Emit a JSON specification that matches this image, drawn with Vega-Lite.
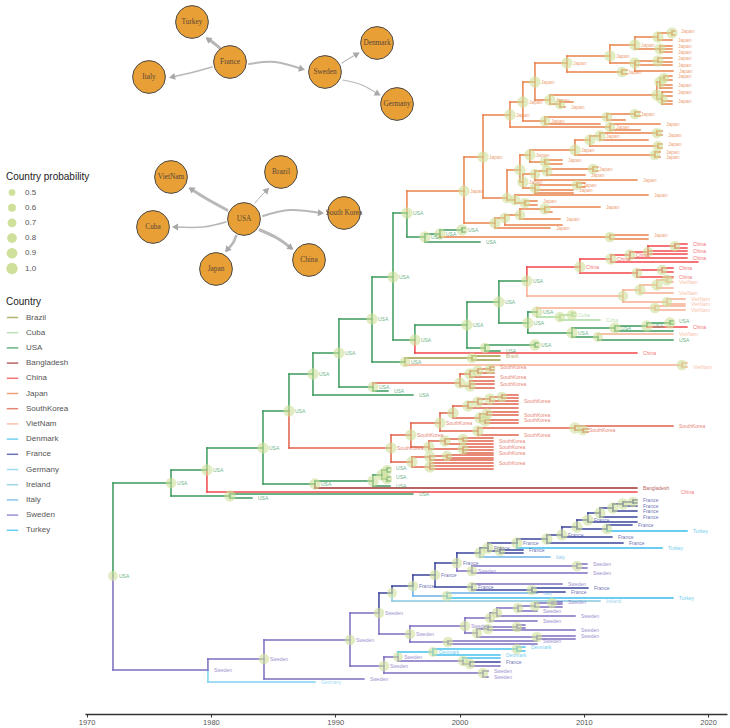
{
"$schema":"https://vega.github.io/schema/vega-lite/v6.json",
"width":642,"height":714,"autosize":"none",
"padding":{"left":85,"top":0,"right":3,"bottom":14},
"config":{"view":{"stroke":null},"font":"Liberation Sans"},
"datasets":{
"tree":[
{"x":1972.12,"y":576,"c":"USA","p":0.8,"l":1},
{"x":1976.79,"y":483,"px":1972.12,"py":576,"c":"USA","p":0.9,"l":1},
{"x":1979.76,"y":670,"px":1972.12,"py":576,"c":"Sweden","l":1},
{"x":1979.68,"y":470,"px":1976.79,"py":483,"c":"USA","p":1,"l":1},
{"x":1981.53,"y":496,"px":1976.79,"py":483,"c":"USA","p":1},
{"x":1983.3,"y":498,"px":1981.53,"py":496,"c":"USA","l":1},
{"x":1996.25,"y":494,"px":1981.53,"py":496,"c":"USA","l":1},
{"x":1984.19,"y":448,"px":1979.68,"py":470,"c":"USA","p":1,"l":1},
{"x":2014.27,"y":492,"px":1979.68,"py":470,"c":"China","l":2},
{"x":1986.28,"y":411,"px":1984.19,"py":448,"c":"USA","p":1,"l":1},
{"x":1988.37,"y":484,"px":1984.19,"py":448,"c":"USA","p":1,"l":1},
{"x":1993.04,"y":481,"px":1988.37,"py":484,"c":"USA","p":1},
{"x":2014.27,"y":488,"px":1988.37,"py":484,"c":"Bangladesh","l":1},
{"x":1993.76,"y":475,"px":1993.04,"py":481,"c":"USA","p":1},
{"x":1994.41,"y":486,"px":1993.04,"py":481,"c":"USA","l":1},
{"x":1994.16,"y":470,"px":1993.76,"py":475,"c":"USA","p":0.9},
{"x":1994.16,"y":479,"px":1993.76,"py":475,"c":"USA","p":0.9},
{"x":1994.41,"y":468,"px":1994.16,"py":470,"c":"USA","l":1},
{"x":1994.41,"y":472,"px":1994.16,"py":470,"c":"USA"},
{"x":1994.41,"y":477,"px":1994.16,"py":479,"c":"USA","l":1},
{"x":1994.41,"y":481,"px":1994.16,"py":479,"c":"USA"},
{"x":1988.21,"y":374,"px":1986.28,"py":411,"c":"USA","p":1,"l":1},
{"x":1994.49,"y":448,"px":1986.28,"py":411,"c":"SouthKorea","p":1,"l":1},
{"x":1990.3,"y":353,"px":1988.21,"py":374,"c":"USA","p":1,"l":1},
{"x":1996.25,"y":395,"px":1988.21,"py":374,"c":"USA","l":1},
{"x":1992.96,"y":319,"px":1990.3,"py":353,"c":"USA","p":1,"l":1},
{"x":1993.04,"y":387,"px":1990.3,"py":353,"c":"USA","p":0.9,"l":1},
{"x":2000.04,"y":383,"px":1993.04,"py":387,"c":"SouthKorea","p":1},
{"x":1994.24,"y":391,"px":1993.04,"py":387,"c":"USA","l":1},
{"x":1994.65,"y":277,"px":1992.96,"py":319,"c":"USA","p":1,"l":1},
{"x":1995.61,"y":362,"px":1992.96,"py":319,"c":"USA","p":0.9,"l":1},
{"x":2001.0,"y":358,"px":1995.61,"py":362,"c":"Brazil","p":0.9},
{"x":2017.89,"y":365,"px":1995.61,"py":362,"c":"VietNam","p":0.9},
{"x":2003.25,"y":356,"px":2001.0,"py":358,"c":"Brazil","l":1},
{"x":2003.25,"y":360,"px":2001.0,"py":358,"c":"Brazil"},
{"x":2018.3,"y":363,"px":2017.89,"py":365,"c":"VietNam"},
{"x":2018.3,"y":367,"px":2017.89,"py":365,"c":"VietNam","l":1},
{"x":1995.77,"y":213,"px":1994.65,"py":277,"c":"USA","p":1,"l":1},
{"x":1996.41,"y":340,"px":1994.65,"py":277,"c":"USA","p":1,"l":1},
{"x":2000.6,"y":325,"px":1996.41,"py":340,"c":"USA","p":1,"l":1},
{"x":2014.27,"y":353,"px":1996.41,"py":340,"c":"China","l":1},
{"x":2003.17,"y":302,"px":2000.6,"py":325,"c":"USA","p":1,"l":1},
{"x":2002.05,"y":348,"px":2000.6,"py":325,"c":"USA","p":0.9},
{"x":2006.07,"y":345,"px":2002.05,"py":348,"c":"USA","p":1,"l":1},
{"x":2003.25,"y":351,"px":2002.05,"py":348,"c":"USA","l":1},
{"x":2006.31,"y":343,"px":2006.07,"py":345,"c":"USA"},
{"x":2006.31,"y":347,"px":2006.07,"py":345,"c":"USA"},
{"x":2005.42,"y":281,"px":2003.17,"py":302,"c":"USA","p":1,"l":1},
{"x":2005.5,"y":323,"px":2003.17,"py":302,"c":"USA","p":1,"l":1},
{"x":2009.69,"y":267,"px":2005.42,"py":281,"c":"China","p":1,"l":1},
{"x":2013.15,"y":296,"px":2005.42,"py":281,"c":"VietNam","p":0.9},
{"x":2012.18,"y":259,"px":2009.69,"py":267,"c":"China","p":1,"l":1},
{"x":2014.27,"y":273,"px":2009.69,"py":267,"c":"China","p":0.9},
{"x":2016.29,"y":270,"px":2014.27,"py":273,"c":"China","p":0.9},
{"x":2017.17,"y":277,"px":2014.27,"py":273,"c":"China","l":1},
{"x":2017.17,"y":268,"px":2016.29,"py":270,"c":"China","l":1},
{"x":2017.17,"y":272,"px":2016.29,"py":270,"c":"China"},
{"x":2013.71,"y":255,"px":2012.18,"py":259,"c":"China","p":1,"l":1},
{"x":2019.18,"y":262,"px":2012.18,"py":259,"c":"China"},
{"x":2015.16,"y":252,"px":2013.71,"py":255,"c":"China","p":0.9},
{"x":2018.3,"y":258,"px":2013.71,"py":255,"c":"China","l":1},
{"x":2017.33,"y":246,"px":2015.16,"py":252,"c":"China","p":0.9},
{"x":2018.3,"y":251,"px":2015.16,"py":252,"c":"China","l":1},
{"x":2018.3,"y":254,"px":2015.16,"py":252,"c":"China"},
{"x":2018.3,"y":244,"px":2017.33,"py":246,"c":"China","l":1},
{"x":2018.3,"y":248,"px":2017.33,"py":246,"c":"China"},
{"x":2014.52,"y":290,"px":2013.15,"py":296,"c":"VietNam","p":1},
{"x":2016.69,"y":302,"px":2013.15,"py":296,"c":"VietNam","p":0.9},
{"x":2015.88,"y":285,"px":2014.52,"py":290,"c":"VietNam","p":1},
{"x":2017.17,"y":293,"px":2014.52,"py":290,"c":"VietNam","l":1},
{"x":2016.69,"y":280,"px":2015.88,"py":285,"c":"VietNam","p":1},
{"x":2017.17,"y":288,"px":2015.88,"py":285,"c":"VietNam"},
{"x":2017.17,"y":278,"px":2016.69,"py":280,"c":"VietNam"},
{"x":2017.17,"y":282,"px":2016.69,"py":280,"c":"VietNam","l":1},
{"x":2018.14,"y":299,"px":2016.69,"py":302,"c":"VietNam","l":1},
{"x":2018.14,"y":304,"px":2016.69,"py":302,"c":"VietNam","l":1},
{"x":2006.23,"y":312,"px":2005.5,"py":323,"c":"USA","p":1,"l":1},
{"x":2009.05,"y":333,"px":2005.5,"py":323,"c":"USA","p":1,"l":1},
{"x":2015.72,"y":308,"px":2006.23,"py":312,"c":"VietNam","p":0.9},
{"x":2008.08,"y":317,"px":2006.23,"py":312,"c":"Cuba","p":0.9},
{"x":2018.14,"y":306,"px":2015.72,"py":308,"c":"VietNam"},
{"x":2018.14,"y":310,"px":2015.72,"py":308,"c":"VietNam","l":1},
{"x":2009.05,"y":315,"px":2008.08,"py":317,"c":"Cuba","p":0.9,"l":1},
{"x":2011.3,"y":320,"px":2008.08,"py":317,"c":"Cuba","l":1},
{"x":2009.29,"y":313,"px":2009.05,"py":315,"c":"Cuba"},
{"x":2009.29,"y":316,"px":2009.05,"py":315,"c":"Cuba"},
{"x":2012.5,"y":328,"px":2009.05,"py":333,"c":"USA","p":1,"l":1},
{"x":2011.13,"y":337,"px":2009.05,"py":333,"c":"USA","p":0.8},
{"x":2017.17,"y":334,"px":2011.13,"py":337,"c":"VietNam","l":1},
{"x":2017.17,"y":340,"px":2011.13,"py":337,"c":"USA","l":1},
{"x":2015.08,"y":326,"px":2012.5,"py":328,"c":"USA","p":1,"l":1},
{"x":2017.17,"y":331,"px":2012.5,"py":328,"c":"USA"},
{"x":2016.93,"y":323,"px":2015.08,"py":326,"c":"USA","p":1},
{"x":2018.3,"y":327,"px":2015.08,"py":326,"c":"China","l":1},
{"x":2017.17,"y":321,"px":2016.93,"py":323,"c":"USA","l":1},
{"x":2017.17,"y":324,"px":2016.93,"py":323,"c":"USA"},
{"x":2000.36,"y":191,"px":1995.77,"py":213,"c":"Japan","p":1,"l":1},
{"x":1997.22,"y":237,"px":1995.77,"py":213,"c":"USA","p":1,"l":1},
{"x":1998.43,"y":234,"px":1997.22,"py":237,"c":"USA","p":1,"l":1},
{"x":2001.64,"y":242,"px":1997.22,"py":237,"c":"USA","l":1},
{"x":2000.2,"y":230,"px":1998.43,"py":234,"c":"USA","p":1,"l":1},
{"x":2012.1,"y":237,"px":1998.43,"py":234,"c":"Japan","p":0.9},
{"x":2000.44,"y":228,"px":2000.2,"py":230,"c":"USA"},
{"x":2000.44,"y":232,"px":2000.2,"py":230,"c":"USA"},
{"x":2015.16,"y":235,"px":2012.1,"py":237,"c":"Japan","l":1},
{"x":2015.16,"y":239,"px":2012.1,"py":237,"c":"Japan"},
{"x":2001.89,"y":157,"px":2000.36,"py":191,"c":"Japan","p":1,"l":1},
{"x":2002.85,"y":223,"px":2000.36,"py":191,"c":"Japan","p":1},
{"x":2007.27,"y":228,"px":2002.85,"py":223,"c":"Japan","l":1},
{"x":2003.65,"y":218,"px":2002.85,"py":223,"c":"Japan","p":0.9},
{"x":2008.24,"y":225,"px":2003.65,"py":218,"c":"Japan"},
{"x":2004.86,"y":215,"px":2003.65,"py":218,"c":"Japan","p":0.9},
{"x":2008.08,"y":219,"px":2004.86,"py":215,"c":"Japan","l":1},
{"x":2006.87,"y":209,"px":2004.86,"py":215,"c":"Japan","p":1},
{"x":2011.3,"y":207,"px":2006.87,"py":209,"c":"Japan","l":1},
{"x":2007.43,"y":212,"px":2006.87,"py":209,"c":"Japan"},
{"x":2004.06,"y":115,"px":2001.89,"py":157,"c":"Japan","p":1,"l":1},
{"x":2003.82,"y":198,"px":2001.89,"py":157,"c":"Japan","p":0.9},
{"x":2004.86,"y":170,"px":2003.82,"py":198,"c":"Japan","p":1},
{"x":2004.46,"y":200,"px":2003.82,"py":198,"c":"Japan","p":0.9},
{"x":2015.16,"y":195,"px":2004.46,"py":200,"c":"Japan","l":1},
{"x":2005.26,"y":203,"px":2004.46,"py":200,"c":"Japan","p":0.9},
{"x":2006.23,"y":201,"px":2005.26,"py":203,"c":"Japan","l":1},
{"x":2006.23,"y":205,"px":2005.26,"py":203,"c":"Japan"},
{"x":2005.66,"y":155,"px":2004.86,"py":170,"c":"Japan","p":1,"l":1},
{"x":2005.1,"y":182,"px":2004.86,"py":170,"c":"Japan","p":1,"l":1},
{"x":2009.29,"y":150,"px":2005.66,"py":155,"c":"Japan","p":1,"l":1},
{"x":2006.87,"y":162,"px":2005.66,"py":155,"c":"Japan","p":0.9},
{"x":2008.24,"y":160,"px":2006.87,"py":162,"c":"Japan","l":1},
{"x":2008.24,"y":164,"px":2006.87,"py":162,"c":"Japan"},
{"x":2010.49,"y":140,"px":2009.29,"py":150,"c":"Japan","p":1},
{"x":2015.72,"y":155,"px":2009.29,"py":150,"c":"Japan","p":0.9},
{"x":2016.13,"y":152,"px":2015.72,"py":155,"c":"Japan","l":1},
{"x":2016.13,"y":157,"px":2015.72,"py":155,"c":"Japan","l":1},
{"x":2011.3,"y":136,"px":2010.49,"py":140,"c":"Japan","p":1,"l":1},
{"x":2015.96,"y":146,"px":2010.49,"py":140,"c":"Japan","p":0.9},
{"x":2016.29,"y":144,"px":2015.96,"py":146,"c":"Japan","l":1},
{"x":2016.29,"y":148,"px":2015.96,"py":146,"c":"Japan"},
{"x":2015.88,"y":133,"px":2011.3,"py":136,"c":"Japan","p":0.9},
{"x":2015.16,"y":140,"px":2011.3,"py":136,"c":"Japan"},
{"x":2016.29,"y":131,"px":2015.88,"py":133,"c":"Japan"},
{"x":2016.29,"y":135,"px":2015.88,"py":133,"c":"Japan","l":1},
{"x":2006.07,"y":174,"px":2005.1,"py":182,"c":"Japan","p":0.9},
{"x":2006.07,"y":188,"px":2005.1,"py":182,"c":"Japan","p":0.9},
{"x":2007.03,"y":171,"px":2006.07,"py":174,"c":"Japan","p":1},
{"x":2014.27,"y":180,"px":2006.07,"py":174,"c":"Japan","l":1},
{"x":2010.73,"y":169,"px":2007.03,"py":171,"c":"Japan","p":0.9,"l":1},
{"x":2010.09,"y":175,"px":2007.03,"py":171,"c":"Japan","l":1},
{"x":2011.13,"y":167,"px":2010.73,"py":169,"c":"Japan"},
{"x":2011.13,"y":171,"px":2010.73,"py":169,"c":"Japan"},
{"x":2009.45,"y":185,"px":2006.07,"py":188,"c":"Japan","p":0.9,"l":1},
{"x":2009.13,"y":190,"px":2006.07,"py":188,"c":"Japan","l":1},
{"x":2009.13,"y":193,"px":2006.07,"py":188,"c":"Japan"},
{"x":2010.09,"y":183,"px":2009.45,"py":185,"c":"Japan"},
{"x":2010.09,"y":187,"px":2009.45,"py":185,"c":"Japan"},
{"x":2005.1,"y":102,"px":2004.06,"py":115,"c":"Japan","p":1,"l":1},
{"x":2012.1,"y":127,"px":2004.06,"py":115,"c":"Japan","p":0.9,"l":1},
{"x":2016.13,"y":124,"px":2012.1,"py":127,"c":"Japan","l":1},
{"x":2014.52,"y":130,"px":2012.1,"py":127,"c":"Japan"},
{"x":2006.07,"y":82,"px":2005.1,"py":102,"c":"Japan","p":1,"l":1},
{"x":2006.87,"y":121,"px":2005.1,"py":102,"c":"Japan","p":0.9,"l":1},
{"x":2011.86,"y":117,"px":2006.87,"py":121,"c":"Japan","p":0.9},
{"x":2011.3,"y":124,"px":2006.87,"py":121,"c":"Japan"},
{"x":2014.11,"y":114,"px":2011.86,"py":117,"c":"Japan","p":0.9,"l":1},
{"x":2013.31,"y":120,"px":2011.86,"py":117,"c":"Japan"},
{"x":2014.52,"y":112,"px":2014.11,"py":114,"c":"Japan"},
{"x":2014.52,"y":116,"px":2014.11,"py":114,"c":"Japan"},
{"x":2008.64,"y":63,"px":2006.07,"py":82,"c":"Japan","p":1,"l":1},
{"x":2007.27,"y":100,"px":2006.07,"py":82,"c":"Japan","p":1,"l":1},
{"x":2015.88,"y":95,"px":2007.27,"py":100,"c":"Japan","p":1},
{"x":2008.08,"y":104,"px":2007.27,"py":100,"c":"Japan","p":0.9},
{"x":2009.13,"y":102,"px":2008.08,"py":104,"c":"Japan"},
{"x":2008.48,"y":107,"px":2008.08,"py":104,"c":"Japan","l":1},
{"x":2016.13,"y":82,"px":2015.88,"py":95,"c":"Japan","p":1},
{"x":2016.29,"y":99,"px":2015.88,"py":95,"c":"Japan","p":1},
{"x":2016.45,"y":78,"px":2016.13,"py":82,"c":"Japan","p":0.9},
{"x":2017.09,"y":85,"px":2016.13,"py":82,"c":"Japan","l":1},
{"x":2017.09,"y":88,"px":2016.13,"py":82,"c":"Japan"},
{"x":2017.09,"y":76,"px":2016.45,"py":78,"c":"Japan","l":1},
{"x":2017.09,"y":80,"px":2016.45,"py":78,"c":"Japan"},
{"x":2017.09,"y":92,"px":2016.29,"py":99,"c":"Japan","l":1},
{"x":2017.09,"y":96,"px":2016.29,"py":99,"c":"Japan"},
{"x":2017.09,"y":101,"px":2016.29,"py":99,"c":"Japan","l":1},
{"x":2017.09,"y":104,"px":2016.29,"py":99,"c":"Japan"},
{"x":2012.1,"y":56,"px":2008.64,"py":63,"c":"Japan","p":1,"l":1},
{"x":2013.07,"y":72,"px":2008.64,"py":63,"c":"Japan","p":0.9,"l":1},
{"x":2013.47,"y":70,"px":2013.07,"py":72,"c":"Japan"},
{"x":2013.47,"y":74,"px":2013.07,"py":72,"c":"Japan"},
{"x":2014.11,"y":45,"px":2012.1,"py":56,"c":"Japan","p":1,"l":1},
{"x":2014.11,"y":63,"px":2012.1,"py":56,"c":"Japan","p":1},
{"x":2015.96,"y":37,"px":2014.11,"py":45,"c":"Japan","p":1},
{"x":2016.13,"y":49,"px":2014.11,"py":45,"c":"Japan","p":1},
{"x":2017.09,"y":33,"px":2015.96,"py":37,"c":"Japan","p":1},
{"x":2017.09,"y":40,"px":2015.96,"py":37,"c":"Japan","l":1},
{"x":2017.33,"y":31,"px":2017.09,"py":33,"c":"Japan","l":1},
{"x":2017.33,"y":35,"px":2017.09,"py":33,"c":"Japan"},
{"x":2017.09,"y":46,"px":2016.13,"py":49,"c":"Japan","l":1},
{"x":2017.09,"y":49,"px":2016.13,"py":49,"c":"Japan"},
{"x":2017.09,"y":52,"px":2016.13,"py":49,"c":"Japan","l":1},
{"x":2015.96,"y":61,"px":2014.11,"py":63,"c":"Japan","p":1},
{"x":2017.09,"y":65,"px":2014.11,"py":63,"c":"Japan","l":1},
{"x":2017.17,"y":71,"px":2014.11,"py":63,"c":"Japan","l":1},
{"x":2017.09,"y":58,"px":2015.96,"py":61,"c":"Japan","l":1},
{"x":2017.09,"y":62,"px":2015.96,"py":61,"c":"Japan"},
{"x":2000.84,"y":374,"px":2000.04,"py":383,"c":"SouthKorea","p":1},
{"x":2000.84,"y":386,"px":2000.04,"py":383,"c":"SouthKorea","p":1},
{"x":2001.48,"y":371,"px":2000.84,"py":374,"c":"SouthKorea","p":1},
{"x":2002.77,"y":377,"px":2000.84,"py":374,"c":"SouthKorea","l":1},
{"x":2002.45,"y":369,"px":2001.48,"py":371,"c":"SouthKorea","p":0.9},
{"x":2002.77,"y":373,"px":2001.48,"py":371,"c":"SouthKorea"},
{"x":2002.77,"y":367,"px":2002.45,"py":369,"c":"SouthKorea","l":1},
{"x":2002.77,"y":370,"px":2002.45,"py":369,"c":"SouthKorea"},
{"x":2002.77,"y":381,"px":2000.84,"py":386,"c":"SouthKorea"},
{"x":2002.77,"y":384,"px":2000.84,"py":386,"c":"SouthKorea","l":1},
{"x":2002.77,"y":388,"px":2000.84,"py":386,"c":"SouthKorea"},
{"x":1996.09,"y":435,"px":1994.49,"py":448,"c":"SouthKorea","p":1,"l":1},
{"x":1996.17,"y":462,"px":1994.49,"py":448,"c":"SouthKorea","p":1},
{"x":1998.43,"y":423,"px":1996.09,"py":435,"c":"SouthKorea","p":1,"l":1},
{"x":1997.54,"y":447,"px":1996.09,"py":435,"c":"SouthKorea","p":1},
{"x":1999.47,"y":413,"px":1998.43,"py":423,"c":"SouthKorea","p":1},
{"x":2001.48,"y":431,"px":1998.43,"py":423,"c":"SouthKorea","p":1},
{"x":2009.29,"y":428,"px":2001.48,"py":431,"c":"SouthKorea","p":1},
{"x":2004.7,"y":435,"px":2001.48,"py":431,"c":"SouthKorea","l":1},
{"x":2017.17,"y":426,"px":2009.29,"py":428,"c":"SouthKorea","l":1},
{"x":2009.93,"y":430,"px":2009.29,"py":428,"c":"SouthKorea","p":0.9,"l":1},
{"x":2010.33,"y":429,"px":2009.93,"py":430,"c":"SouthKorea"},
{"x":2010.33,"y":432,"px":2009.93,"py":430,"c":"SouthKorea"},
{"x":2000.68,"y":406,"px":1999.47,"py":413,"c":"SouthKorea","p":1},
{"x":2001.64,"y":418,"px":1999.47,"py":413,"c":"SouthKorea","p":1},
{"x":2001.48,"y":402,"px":2000.68,"py":406,"c":"SouthKorea","p":1},
{"x":2004.7,"y":408,"px":2000.68,"py":406,"c":"SouthKorea"},
{"x":2002.45,"y":399,"px":2001.48,"py":402,"c":"SouthKorea","p":1},
{"x":2004.7,"y":404,"px":2001.48,"py":402,"c":"SouthKorea"},
{"x":2003.41,"y":397,"px":2002.45,"py":399,"c":"SouthKorea","p":0.9},
{"x":2004.7,"y":401,"px":2002.45,"py":399,"c":"SouthKorea","l":1},
{"x":2004.7,"y":395,"px":2003.41,"py":397,"c":"SouthKorea"},
{"x":2004.7,"y":398,"px":2003.41,"py":397,"c":"SouthKorea"},
{"x":2002.21,"y":414,"px":2001.64,"py":418,"c":"SouthKorea","p":1},
{"x":2002.05,"y":421,"px":2001.64,"py":418,"c":"SouthKorea","p":1},
{"x":2004.7,"y":412,"px":2002.21,"py":414,"c":"SouthKorea"},
{"x":2004.7,"y":415,"px":2002.21,"py":414,"c":"SouthKorea","l":1},
{"x":2004.7,"y":420,"px":2002.05,"py":421,"c":"SouthKorea","l":1},
{"x":2004.7,"y":423,"px":2002.05,"py":421,"c":"SouthKorea"},
{"x":1998.83,"y":441,"px":1997.54,"py":447,"c":"SouthKorea","p":1},
{"x":2000.28,"y":449,"px":1997.54,"py":447,"c":"SouthKorea","p":1},
{"x":2000.28,"y":439,"px":1998.83,"py":441,"c":"SouthKorea","p":0.9},
{"x":2002.69,"y":444,"px":1998.83,"py":441,"c":"SouthKorea"},
{"x":2002.69,"y":438,"px":2000.28,"py":439,"c":"SouthKorea"},
{"x":2002.69,"y":441,"px":2000.28,"py":439,"c":"SouthKorea","l":1},
{"x":2002.69,"y":447,"px":2000.28,"py":449,"c":"SouthKorea","l":1},
{"x":2002.69,"y":450,"px":2000.28,"py":449,"c":"SouthKorea"},
{"x":2002.69,"y":453,"px":2000.28,"py":449,"c":"SouthKorea","l":1},
{"x":1997.62,"y":457,"px":1996.17,"py":462,"c":"SouthKorea","p":1},
{"x":1997.62,"y":467,"px":1996.17,"py":462,"c":"SouthKorea","p":1},
{"x":1998.99,"y":456,"px":1997.62,"py":457,"c":"SouthKorea","p":0.9},
{"x":2002.69,"y":460,"px":1997.62,"py":457,"c":"SouthKorea"},
{"x":2002.69,"y":455,"px":1998.99,"py":456,"c":"SouthKorea"},
{"x":2002.69,"y":458,"px":1998.99,"py":456,"c":"SouthKorea"},
{"x":2002.69,"y":463,"px":1997.62,"py":467,"c":"SouthKorea","l":1},
{"x":2002.69,"y":466,"px":1997.62,"py":467,"c":"SouthKorea"},
{"x":2002.69,"y":469,"px":1997.62,"py":467,"c":"SouthKorea"},
{"x":1984.27,"y":659,"px":1979.76,"py":670,"c":"Sweden","p":0.9,"l":1},
{"x":1988.37,"y":682,"px":1979.76,"py":670,"c":"Germany","l":1},
{"x":1991.19,"y":640,"px":1984.27,"py":659,"c":"Sweden","p":0.9,"l":1},
{"x":1992.31,"y":679,"px":1984.27,"py":659,"c":"Sweden","l":1},
{"x":1993.52,"y":613,"px":1991.19,"py":640,"c":"Sweden","p":0.9,"l":1},
{"x":1993.92,"y":666,"px":1991.19,"py":640,"c":"Sweden","p":0.9,"l":1},
{"x":1994.57,"y":593,"px":1993.52,"py":613,"c":"France","p":0.8},
{"x":1996.01,"y":634,"px":1993.52,"py":613,"c":"Sweden","p":0.9,"l":1},
{"x":1996.25,"y":586,"px":1994.57,"py":593,"c":"France","p":0.9,"l":1},
{"x":2011.3,"y":601,"px":1994.57,"py":593,"c":"Ireland","l":1},
{"x":1998.03,"y":575,"px":1996.25,"py":586,"c":"France","p":0.9,"l":1},
{"x":1998.99,"y":596,"px":1996.25,"py":586,"c":"Italy","p":0.9},
{"x":2006.23,"y":593,"px":1998.99,"py":596,"c":"Italy","l":1},
{"x":2017.17,"y":598,"px":1998.99,"py":596,"c":"Turkey","l":1},
{"x":1999.79,"y":563,"px":1998.03,"py":575,"c":"France","p":0.9,"l":1},
{"x":2001.0,"y":587,"px":1998.03,"py":575,"c":"France","p":0.9,"l":1},
{"x":2008.24,"y":584,"px":2001.0,"py":587,"c":"Sweden","l":1},
{"x":2005.82,"y":590,"px":2001.0,"py":587,"c":"France","p":0.9},
{"x":2010.33,"y":588,"px":2005.82,"py":590,"c":"France","l":1},
{"x":2008.48,"y":592,"px":2005.82,"py":590,"c":"France","l":1},
{"x":2001.64,"y":553,"px":1999.79,"py":563,"c":"France","p":1},
{"x":2001.0,"y":571,"px":1999.79,"py":563,"c":"Sweden","p":0.9,"l":1},
{"x":2009.45,"y":566,"px":2001.0,"py":571,"c":"Sweden","p":0.9},
{"x":2010.25,"y":573,"px":2001.0,"py":571,"c":"Sweden","l":1},
{"x":2010.25,"y":564,"px":2009.45,"py":566,"c":"Sweden","l":1},
{"x":2010.25,"y":568,"px":2009.45,"py":566,"c":"Sweden"},
{"x":2002.29,"y":548,"px":2001.64,"py":553,"c":"France","p":1,"l":1},
{"x":2007.27,"y":557,"px":2001.64,"py":553,"c":"Italy","l":1},
{"x":2004.62,"y":543,"px":2002.29,"py":548,"c":"France","p":1,"l":1},
{"x":2003.25,"y":551,"px":2002.29,"py":548,"c":"France","p":0.9},
{"x":2005.1,"y":550,"px":2003.25,"py":551,"c":"France","l":1},
{"x":2005.1,"y":553,"px":2003.25,"py":551,"c":"France"},
{"x":2007.03,"y":539,"px":2004.62,"py":543,"c":"France","p":1},
{"x":2016.29,"y":548,"px":2004.62,"py":543,"c":"Turkey","l":1},
{"x":2008.24,"y":535,"px":2007.03,"py":539,"c":"France","p":1,"l":1},
{"x":2013.15,"y":543,"px":2007.03,"py":539,"c":"France","l":1},
{"x":2009.45,"y":527,"px":2008.24,"py":535,"c":"France","p":1},
{"x":2012.26,"y":537,"px":2008.24,"py":535,"c":"France","l":1},
{"x":2010.33,"y":520,"px":2009.45,"py":527,"c":"France","p":1,"l":1},
{"x":2011.86,"y":529,"px":2009.45,"py":527,"c":"France","p":0.9},
{"x":2013.87,"y":525,"px":2011.86,"py":529,"c":"France","l":1},
{"x":2018.3,"y":531,"px":2011.86,"py":529,"c":"Turkey","l":1},
{"x":2011.3,"y":513,"px":2010.33,"py":520,"c":"France","p":1},
{"x":2014.27,"y":522,"px":2010.33,"py":520,"c":"France"},
{"x":2012.34,"y":508,"px":2011.3,"py":513,"c":"France","p":1},
{"x":2014.27,"y":517,"px":2011.3,"py":513,"c":"France","l":1},
{"x":2013.15,"y":504,"px":2012.34,"py":508,"c":"France","p":1},
{"x":2014.27,"y":511,"px":2012.34,"py":508,"c":"France","l":1},
{"x":2013.95,"y":502,"px":2013.15,"py":504,"c":"France","p":0.9},
{"x":2014.27,"y":506,"px":2013.15,"py":504,"c":"France","l":1},
{"x":2014.27,"y":500,"px":2013.95,"py":502,"c":"France","l":1},
{"x":2014.27,"y":503,"px":2013.95,"py":502,"c":"France"},
{"x":2000.44,"y":626,"px":1996.01,"py":634,"c":"Sweden","p":0.9,"l":1},
{"x":1999.07,"y":642,"px":1996.01,"py":634,"c":"Sweden","p":0.9},
{"x":2006.23,"y":641,"px":1999.07,"py":642,"c":"Sweden","l":1},
{"x":2006.23,"y":644,"px":1999.07,"py":642,"c":"Sweden"},
{"x":2002.45,"y":618,"px":2000.44,"py":626,"c":"Sweden","p":0.9},
{"x":2001.4,"y":633,"px":2000.44,"py":626,"c":"Sweden","p":0.9},
{"x":2003.01,"y":613,"px":2002.45,"py":618,"c":"Sweden","p":0.9},
{"x":2006.23,"y":621,"px":2002.45,"py":618,"c":"Sweden","l":1},
{"x":2004.7,"y":608,"px":2003.01,"py":613,"c":"Sweden","p":0.9},
{"x":2009.29,"y":616,"px":2003.01,"py":613,"c":"Sweden","l":1},
{"x":2006.07,"y":606,"px":2004.7,"py":608,"c":"Sweden","p":0.9},
{"x":2006.23,"y":611,"px":2004.7,"py":608,"c":"Sweden","l":1},
{"x":2007.43,"y":603,"px":2006.07,"py":606,"c":"Sweden","p":0.9},
{"x":2008.24,"y":607,"px":2006.07,"py":606,"c":"Sweden"},
{"x":2008.24,"y":602,"px":2007.43,"py":603,"c":"Sweden","l":1},
{"x":2008.24,"y":604,"px":2007.43,"py":603,"c":"Sweden"},
{"x":2002.29,"y":629,"px":2001.4,"py":633,"c":"Sweden","p":0.9},
{"x":2006.23,"y":637,"px":2001.4,"py":633,"c":"Sweden","p":0.9},
{"x":2004.62,"y":627,"px":2002.29,"py":629,"c":"Sweden","p":0.9},
{"x":2009.29,"y":630,"px":2002.29,"py":629,"c":"Sweden","l":1},
{"x":2005.26,"y":625,"px":2004.62,"py":627,"c":"Sweden"},
{"x":2005.26,"y":628,"px":2004.62,"py":627,"c":"Sweden"},
{"x":2009.29,"y":636,"px":2006.23,"py":637,"c":"Sweden","l":1},
{"x":2009.29,"y":639,"px":2006.23,"py":637,"c":"Sweden"},
{"x":1995.05,"y":657,"px":1993.92,"py":666,"c":"Sweden","p":0.8,"l":1},
{"x":2001.89,"y":673,"px":1993.92,"py":666,"c":"Sweden","p":0.9},
{"x":2002.29,"y":671,"px":2001.89,"py":673,"c":"Sweden","l":1},
{"x":2002.29,"y":677,"px":2001.89,"py":673,"c":"Sweden","l":1},
{"x":1997.86,"y":652,"px":1995.05,"py":657,"c":"Denmark","p":0.8,"l":1},
{"x":2000.28,"y":661,"px":1995.05,"py":657,"c":"Sweden","p":0.9},
{"x":2004.62,"y":649,"px":1997.86,"py":652,"c":"Denmark","p":0.9},
{"x":2003.25,"y":655,"px":1997.86,"py":652,"c":"Denmark","l":1},
{"x":2005.26,"y":647,"px":2004.62,"py":649,"c":"Denmark","l":1},
{"x":2005.26,"y":651,"px":2004.62,"py":649,"c":"Denmark"},
{"x":2003.25,"y":658,"px":2000.28,"py":661,"c":"Denmark"},
{"x":2000.84,"y":664,"px":2000.28,"py":661,"c":"Sweden","p":0.9},
{"x":2003.25,"y":662,"px":2000.84,"py":664,"c":"France","l":1},
{"x":2003.25,"y":666,"px":2000.84,"py":664,"c":"Sweden"}
],
"netNodes":[
{"name":"Turkey","lx":107,"ly":22},{"name":"France","lx":145,"ly":62},{"name":"Italy","lx":64,"ly":77},
{"name":"Sweden","lx":240,"ly":72},{"name":"Denmark","lx":292,"ly":43},{"name":"Germany","lx":312,"ly":104},
{"name":"VietNam","lx":86,"ly":177},{"name":"Brazil","lx":196,"ly":172},{"name":"USA","lx":159,"ly":219},
{"name":"South Korea","lx":259,"ly":213},{"name":"Cuba","lx":68,"ly":227},{"name":"Japan","lx":131,"ly":269},
{"name":"China","lx":224,"ly":260}
],
"netEdges":[
{"e":1,"i":0,"lx":137,"ly":50,"w":3},{"e":1,"i":1,"lx":130,"ly":44,"w":3},{"e":1,"i":2,"lx":123,"ly":39,"w":3},
{"e":2,"i":0,"lx":127,"ly":67,"w":1.5},{"e":2,"i":1,"lx":105,"ly":73,"w":1.5},{"e":2,"i":2,"lx":87,"ly":77,"w":1.5},
{"e":3,"i":0,"lx":164,"ly":64,"w":2},{"e":3,"i":1,"lx":190,"ly":62,"w":2},{"e":3,"i":2,"lx":217,"ly":69,"w":2},
{"e":4,"i":0,"lx":257,"ly":63,"w":1.2},{"e":4,"i":1,"lx":265,"ly":58,"w":1.2},{"e":4,"i":2,"lx":272,"ly":54,"w":1.2},
{"e":5,"i":0,"lx":258,"ly":80,"w":1.2},{"e":5,"i":1,"lx":277,"ly":85,"w":1.2},{"e":5,"i":2,"lx":293,"ly":94,"w":1.2},
{"e":6,"i":0,"lx":142,"ly":210,"w":3},{"e":6,"i":1,"lx":122,"ly":199,"w":3},{"e":6,"i":2,"lx":106,"ly":189,"w":3},
{"e":7,"i":0,"lx":170,"ly":203,"w":1},{"e":7,"i":1,"lx":176,"ly":196,"w":1},{"e":7,"i":2,"lx":182,"ly":190,"w":1},
{"e":8,"i":0,"lx":178,"ly":216,"w":2},{"e":8,"i":1,"lx":205,"ly":210,"w":2},{"e":8,"i":2,"lx":236,"ly":213,"w":2},
{"e":9,"i":0,"lx":141,"ly":222,"w":1.5},{"e":9,"i":1,"lx":118,"ly":227,"w":1.5},{"e":9,"i":2,"lx":90,"ly":227,"w":1.5},
{"e":10,"i":0,"lx":151,"ly":236,"w":2.5},{"e":10,"i":1,"lx":148,"ly":243,"w":2.5},{"e":10,"i":2,"lx":142,"ly":250,"w":2.5},
{"e":11,"i":0,"lx":175,"ly":230,"w":3},{"e":11,"i":1,"lx":192,"ly":238,"w":3},{"e":11,"i":2,"lx":206,"ly":248,"w":3}
],
"netArrows":[
{"lx":123,"ly":39,"fx":130,"fy":44},{"lx":87,"ly":77,"fx":105,"fy":73},{"lx":217,"ly":69,"fx":190,"fy":62},
{"lx":272,"ly":54,"fx":265,"fy":58},{"lx":293,"ly":94,"fx":277,"fy":85},{"lx":106,"ly":189,"fx":122,"fy":199},
{"lx":182,"ly":190,"fx":176,"fy":196},{"lx":236,"ly":213,"fx":205,"fy":210},{"lx":90,"ly":227,"fx":118,"fy":227},
{"lx":142,"ly":250,"fx":148,"fy":243},{"lx":206,"ly":248,"fx":192,"fy":238}
]
},
"layer":[
{
"layer":[
{"data":{"name":"tree"},"transform":[{"filter":"isValid(datum.px)"}],
"mark":{"type":"rule","strokeWidth":1.5,"strokeCap":"square"},
"encoding":{
"x":{"field":"px","type":"quantitative","scale":{"domain":[1969.87,2021.52],"nice":false,"zero":false},
"axis":{"values":[1970,1980,1990,2000,2010,2020],"format":"d","title":null,"grid":false,"domainColor":"#333333","domainWidth":1.5,"tickColor":"#333333","tickSize":3,"labelColor":"#555555","labelFontSize":7.5,"labelPadding":1,"labelFont":"Liberation Sans"}},
"y":{"field":"py","type":"quantitative","scale":{"domain":[0,714],"reverse":true,"nice":false,"zero":false},"axis":null},
"y2":{"field":"y"},
"color":{"field":"c","type":"nominal",
"scale":{"domain":["Brazil","Cuba","USA","Bangladesh","China","Japan","SouthKorea","VietNam","Denmark","France","Germany","Ireland","Italy","Sweden","Turkey"],
"range":["#9c9a40","#a6d89e","#3a9a5c","#a03030","#f0464a","#e8804a","#e06048","#f7ad90","#45c0ec","#3b449c","#7dd3f0","#86c8e0","#6bb0e6","#7c6cc0","#38bdec"]},
"legend":{"title":"Country","orient":"none","legendX":-79,"legendY":297,"symbolType":"stroke","symbolStrokeWidth":1.5,"symbolSize":130,"labelFontSize":8,"labelColor":"#555555","titleFontSize":10,"titleFontWeight":"normal","titleColor":"#222222","clipHeight":15,"rowPadding":0.2,"labelOffset":7,"titlePadding":3}}
}},
{"data":{"name":"tree"},"transform":[{"filter":"isValid(datum.px)"}],
"mark":{"type":"rule","strokeWidth":1.5,"strokeCap":"square"},
"encoding":{
"x":{"field":"px","type":"quantitative","scale":{"domain":[1969.87,2021.52],"nice":false,"zero":false},
"axis":{"values":[1970,1980,1990,2000,2010,2020],"format":"d","title":null,"grid":false,"domainColor":"#333333","domainWidth":1.5,"tickColor":"#333333","tickSize":3,"labelColor":"#555555","labelFontSize":7.5,"labelPadding":1,"labelFont":"Liberation Sans"}},
"x2":{"field":"x"},
"y":{"field":"y","type":"quantitative","scale":{"domain":[0,714],"reverse":true,"nice":false,"zero":false},"axis":null},
"color":{"field":"c","type":"nominal",
"scale":{"domain":["Brazil","Cuba","USA","Bangladesh","China","Japan","SouthKorea","VietNam","Denmark","France","Germany","Ireland","Italy","Sweden","Turkey"],
"range":["#9c9a40","#a6d89e","#3a9a5c","#a03030","#f0464a","#e8804a","#e06048","#f7ad90","#45c0ec","#3b449c","#7dd3f0","#86c8e0","#6bb0e6","#7c6cc0","#38bdec"]},
"legend":{"title":"Country","orient":"none","legendX":-79,"legendY":297,"symbolType":"stroke","symbolStrokeWidth":1.5,"symbolSize":130,"labelFontSize":8,"labelColor":"#555555","titleFontSize":10,"titleFontWeight":"normal","titleColor":"#222222","clipHeight":15,"rowPadding":0.2,"labelOffset":7,"titlePadding":3}}
}},
{"data":{"name":"tree"},"transform":[{"filter":"isValid(datum.p)"}],
"mark":{"type":"point","shape":"circle","filled":true,"color":"#cfe09a","opacity":0.6,"strokeWidth":0},
"encoding":{
"x":{"field":"x","type":"quantitative","scale":{"domain":[1969.87,2021.52],"nice":false,"zero":false},
"axis":{"values":[1970,1980,1990,2000,2010,2020],"format":"d","title":null,"grid":false,"domainColor":"#333333","domainWidth":1.5,"tickColor":"#333333","tickSize":3,"labelColor":"#555555","labelFontSize":7.5,"labelPadding":1,"labelFont":"Liberation Sans"}},
"y":{"field":"y","type":"quantitative","scale":{"domain":[0,714],"reverse":true,"nice":false,"zero":false},"axis":null},
"size":{"field":"p","type":"quantitative","scale":{"domain":[0.5,1],"range":[45,130],"zero":false},
"legend":{"title":"Country probability","orient":"none","legendX":-79,"legendY":172,"values":[0.5,0.6,0.7,0.8,0.9,1.0],"format":".1f","symbolFillColor":"#e2ecc2","symbolStrokeColor":"#e2ecc2","symbolOpacity":1,"symbolStrokeWidth":0,"labelFontSize":8,"labelColor":"#555555","titleFontSize":10,"titleFontWeight":"normal","titleColor":"#222222","clipHeight":15,"rowPadding":0.2,"labelOffset":7,"titlePadding":3}}
}},
{"data":{"name":"tree"},"transform":[{"filter":"datum.l == 1"}],
"mark":{"type":"text","align":"left","baseline":"middle","dx":6,"fontSize":5,"font":"Liberation Sans","opacity":0.75},
"encoding":{
"x":{"field":"x","type":"quantitative","scale":{"domain":[1969.87,2021.52],"nice":false,"zero":false},
"axis":{"values":[1970,1980,1990,2000,2010,2020],"format":"d","title":null,"grid":false,"domainColor":"#333333","domainWidth":1.5,"tickColor":"#333333","tickSize":3,"labelColor":"#555555","labelFontSize":7.5,"labelPadding":1,"labelFont":"Liberation Sans"}},
"y":{"field":"y","type":"quantitative","scale":{"domain":[0,714],"reverse":true,"nice":false,"zero":false},"axis":null},
"text":{"field":"c"},
"color":{"field":"c","type":"nominal",
"scale":{"domain":["Brazil","Cuba","USA","Bangladesh","China","Japan","SouthKorea","VietNam","Denmark","France","Germany","Ireland","Italy","Sweden","Turkey"],
"range":["#9c9a40","#a6d89e","#3a9a5c","#a03030","#f0464a","#e8804a","#e06048","#f7ad90","#45c0ec","#3b449c","#7dd3f0","#86c8e0","#6bb0e6","#7c6cc0","#38bdec"]},
"legend":{"title":"Country","orient":"none","legendX":-79,"legendY":297,"symbolType":"stroke","symbolStrokeWidth":1.5,"symbolSize":130,"labelFontSize":8,"labelColor":"#555555","titleFontSize":10,"titleFontWeight":"normal","titleColor":"#222222","clipHeight":15,"rowPadding":0.2,"labelOffset":7,"titlePadding":3}}
}},
{"data":{"name":"tree"},"transform":[{"filter":"datum.l == 2"}],
"mark":{"type":"text","align":"left","baseline":"middle","dx":44,"fontSize":5,"font":"Liberation Sans","opacity":0.75},
"encoding":{
"x":{"field":"x","type":"quantitative","scale":{"domain":[1969.87,2021.52],"nice":false,"zero":false},
"axis":{"values":[1970,1980,1990,2000,2010,2020],"format":"d","title":null,"grid":false,"domainColor":"#333333","domainWidth":1.5,"tickColor":"#333333","tickSize":3,"labelColor":"#555555","labelFontSize":7.5,"labelPadding":1,"labelFont":"Liberation Sans"}},
"y":{"field":"y","type":"quantitative","scale":{"domain":[0,714],"reverse":true,"nice":false,"zero":false},"axis":null},
"text":{"field":"c"},
"color":{"field":"c","type":"nominal",
"scale":{"domain":["Brazil","Cuba","USA","Bangladesh","China","Japan","SouthKorea","VietNam","Denmark","France","Germany","Ireland","Italy","Sweden","Turkey"],
"range":["#9c9a40","#a6d89e","#3a9a5c","#a03030","#f0464a","#e8804a","#e06048","#f7ad90","#45c0ec","#3b449c","#7dd3f0","#86c8e0","#6bb0e6","#7c6cc0","#38bdec"]},
"legend":{"title":"Country","orient":"none","legendX":-79,"legendY":297,"symbolType":"stroke","symbolStrokeWidth":1.5,"symbolSize":130,"labelFontSize":8,"labelColor":"#555555","titleFontSize":10,"titleFontWeight":"normal","titleColor":"#222222","clipHeight":15,"rowPadding":0.2,"labelOffset":7,"titlePadding":3}}
}}
]
},
{
"layer":[
{"data":{"name":"netEdges"},
"mark":{"type":"line","interpolate":"natural","color":"#b8b8b8","strokeCap":"round"},
"encoding":{
"x":{"field":"lx","type":"quantitative","scale":{"domain":[0,642],"nice":false,"zero":false},"axis":null},
"y":{"field":"ly","type":"quantitative","scale":{"domain":[0,714],"reverse":true,"nice":false,"zero":false},"axis":null},
"detail":{"field":"e","type":"nominal"},
"order":{"field":"i","type":"quantitative"},
"strokeWidth":{"field":"w","type":"quantitative","scale":null}
}},
{"data":{"name":"netArrows"},
"transform":[{"calculate":"atan2(datum.lx - datum.fx, datum.fy - datum.ly) * 180 / PI","as":"ang"}],
"mark":{"type":"point","shape":"triangle-up","filled":true,"color":"#a8a8a8","opacity":1,"size":50},
"encoding":{
"x":{"field":"lx","type":"quantitative","scale":{"domain":[0,642],"nice":false,"zero":false},"axis":null},
"y":{"field":"ly","type":"quantitative","scale":{"domain":[0,714],"reverse":true,"nice":false,"zero":false},"axis":null},
"angle":{"field":"ang","type":"quantitative","scale":null}
}},
{"data":{"name":"netNodes"},
"mark":{"type":"point","shape":"circle","filled":true,"fill":"#e8a036","stroke":"#4a4a4a","strokeWidth":1,"opacity":1,"size":1075},
"encoding":{
"x":{"field":"lx","type":"quantitative","scale":{"domain":[0,642],"nice":false,"zero":false},"axis":null},
"y":{"field":"ly","type":"quantitative","scale":{"domain":[0,714],"reverse":true,"nice":false,"zero":false},"axis":null}
}},
{"data":{"name":"netNodes"},
"mark":{"type":"text","font":"Liberation Serif","fontSize":7.3,"color":"#5a4636","align":"center","baseline":"middle"},
"encoding":{
"x":{"field":"lx","type":"quantitative","scale":{"domain":[0,642],"nice":false,"zero":false},"axis":null},
"y":{"field":"ly","type":"quantitative","scale":{"domain":[0,714],"reverse":true,"nice":false,"zero":false},"axis":null},
"text":{"field":"name"}
}}
]
}
],
"resolve":{"scale":{"x":"independent","y":"independent"}}
}
